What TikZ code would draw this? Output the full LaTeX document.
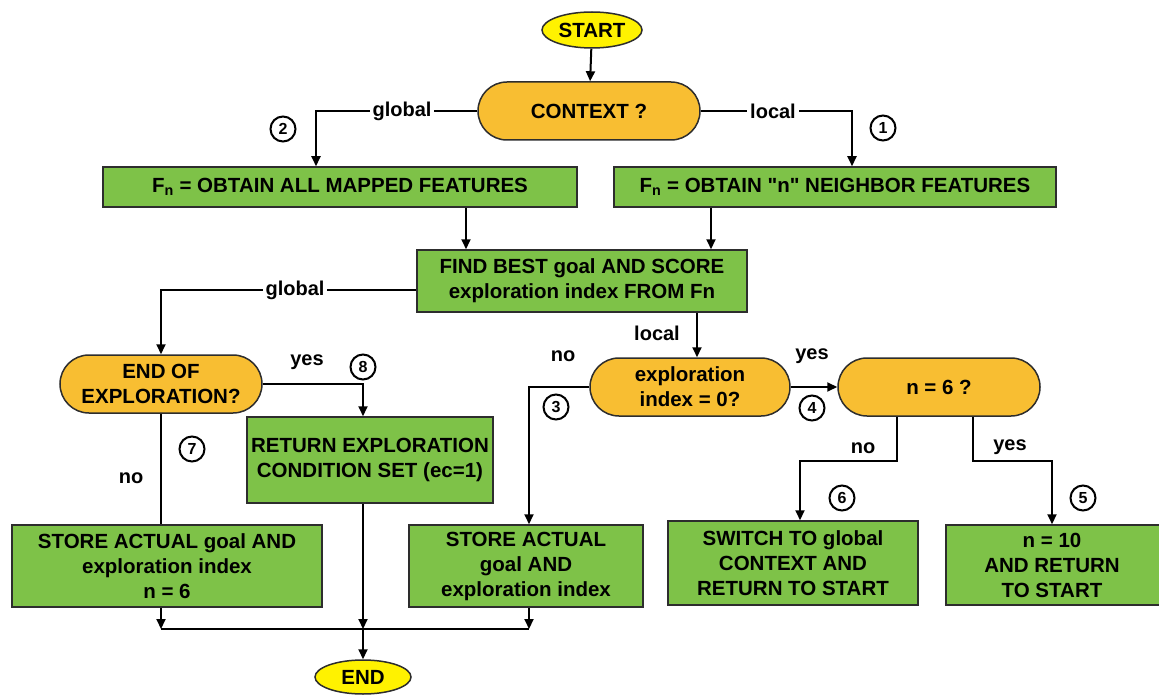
\documentclass[tikz,border=0pt]{standalone}
\usepackage{fontspec}
\setmainfont{Liberation Sans}[Ligatures=TeXOff]
\usetikzlibrary{arrows.meta,shapes.geometric}
\definecolor{boxgreen}{RGB}{126,194,72}
\definecolor{termorange}{RGB}{248,190,50}
\definecolor{termyellow}{RGB}{255,242,0}
\definecolor{edgegray}{RGB}{45,45,45}
\begin{document}
\begin{tikzpicture}[x=1pt,y=-1pt,
  font=\fontsize{20.5}{25}\selectfont\bfseries,
  box/.style={draw=edgegray,line width=1.5pt,fill=boxgreen,align=center,inner sep=0pt},
  term/.style={draw=edgegray,line width=1.5pt,fill=termorange,align=center,inner sep=0pt,rounded corners=29pt,minimum height=58pt},
  oval/.style={ellipse,draw=edgegray,line width=1.5pt,fill=termyellow,inner sep=0pt},
  conn/.style={line width=2pt,draw=black},
  arr/.style={conn,-{Triangle[length=10pt,width=9pt]}},
  lab/.style={fill=white,inner sep=3pt,font=\fontsize{20}{22}\selectfont\bfseries},
  circ/.style={circle,draw=black,line width=2pt,minimum size=25pt,inner sep=0pt,fill=white,font=\fontsize{16}{16}\selectfont\bfseries}
]
\useasboundingbox[fill=white] (0,0) rectangle (1159,695);

% column / row coordinates
\coordinate (c161) at (161,0);
\coordinate (c316) at (316,0);
\coordinate (c363) at (363,0);
\coordinate (c466) at (466,0);
\coordinate (c529) at (529,0);
\coordinate (c697) at (697,0);
\coordinate (c711) at (711,0);
\coordinate (c800) at (800,0);
\coordinate (c852) at (852,0);
\coordinate (c897) at (897,0);
\coordinate (c973) at (973,0);
\coordinate (c1052) at (1052,0);
\coordinate (yg) at (0,290);
\coordinate (yn) at (0,461);
\coordinate (yb) at (0,629);

% nodes
\node[oval,minimum width=100pt,minimum height=36pt] (start) at (592,30) {START};
\node[term,minimum width=222pt] (ctx) at (589,111) {CONTEXT ?};
\node[box,minimum width=474pt,minimum height=40pt] (fna) at (340,187) {F\textsubscript{n} = OBTAIN ALL MAPPED FEATURES};
\node[box,minimum width=442pt,minimum height=40pt] (fnn) at (835,187) {F\textsubscript{n} = OBTAIN "n" NEIGHBOR FEATURES};
\node[box,minimum width=330pt,minimum height=62pt] (find) at (582,281) {FIND BEST goal AND SCORE\\exploration index FROM Fn};
\node[term,minimum width=202pt] (eoe) at (161,384) {END OF\\EXPLORATION?};
\node[box,minimum width=246pt,minimum height=86pt] (ret) at (370,460) {RETURN EXPLORATION\\CONDITION SET (ec=1)};
\node[box,minimum width=310pt,minimum height=82pt] (sl) at (167,566) {STORE ACTUAL goal AND\\exploration index\\n = 6};
\node[box,minimum width=234pt,minimum height=82pt] (sr) at (526,566) {STORE ACTUAL\\goal AND\\exploration index};
\node[term,minimum width=200pt] (exp) at (690,387) {exploration\\index = 0?};
\node[term,minimum width=202pt] (n6) at (939,387) {n = 6 ?};
\node[box,minimum width=250pt,minimum height=84pt] (sw) at (793,563) {SWITCH TO global\\CONTEXT AND\\RETURN TO START};
\node[box,minimum width=232pt,minimum height=80pt] (n10) at (1062,565) {};
\node[align=center] (n10t) at (1052,565) {n = 10\\AND RETURN\\TO START};
\node[oval,minimum width=96pt,minimum height=34pt] (end) at (363,677) {END};

% connectors
\draw[arr] (start) -- (ctx);
\draw[arr] (ctx.west) -- (ctx.west -| c316) -- (fna.north -| c316);
\draw[arr] (ctx.east) -- (ctx.east -| c852) -- (fnn.north -| c852);
\draw[arr] (fna.south -| c466) -- (find.north -| c466);
\draw[arr] (fnn.south -| c711) -- (find.north -| c711);
\draw[arr] (find.west |- yg) -- (yg -| c161) -- (eoe.north -| c161);
\draw[arr] (find.south -| c697) -- (exp.north -| c697);
\draw[arr] (eoe.east) -- (eoe.east -| c363) -- (ret.north -| c363);
\draw[conn] (eoe.south -| c161) -- (sl.north -| c161);
\draw[arr] (sl.south -| c161) -- (yb -| c161);
\draw[arr] (sr.south -| c529) -- (yb -| c529);
\draw[conn] (yb -| c161) -- (yb -| c529);
\draw[arr] (ret.south -| c363) -- (yb -| c363);
\draw[arr] (yb -| c363) -- (end.north);
\draw[arr] (exp.west) -- (exp.west -| c529) -- (sr.north -| c529);
\draw[arr] (exp.east) -- (n6.west);
\draw[arr] (n6.south -| c897) -- (yn -| c897) -- (yn -| c800) -- (sw.north -| c800);
\draw[arr] (n6.south -| c973) -- (yn -| c973) -- (yn -| c1052) -- (n10.north -| c1052);

% labels
\node[lab] (l1) at (402,111) {global};
\node[lab] (l2) at (773,111) {local};
\node[lab] (l3) at (295,290) {global};
\node[lab] (l4) at (657,333) {local};
\node[lab] (l5) at (307,362) {yes};
\node[lab] (l6) at (131,478) {no};
\node[lab] (l7) at (563,356) {no};
\node[lab] (l8) at (812,356) {yes};
\node[lab] (l9) at (863,448) {no};
\node[lab] (l10) at (1010,447) {yes};

% circled numbers
\node[circ] (k1) at (883,128) {1};
\node[circ] (k2) at (283,129) {2};
\node[circ] (k3) at (556,407) {3};
\node[circ] (k4) at (812,408) {4};
\node[circ] (k5) at (1083,498) {5};
\node[circ] (k6) at (842,498) {6};
\node[circ] (k7) at (192,449) {7};
\node[circ] (k8) at (363,367) {8};
\end{tikzpicture}
\end{document}
